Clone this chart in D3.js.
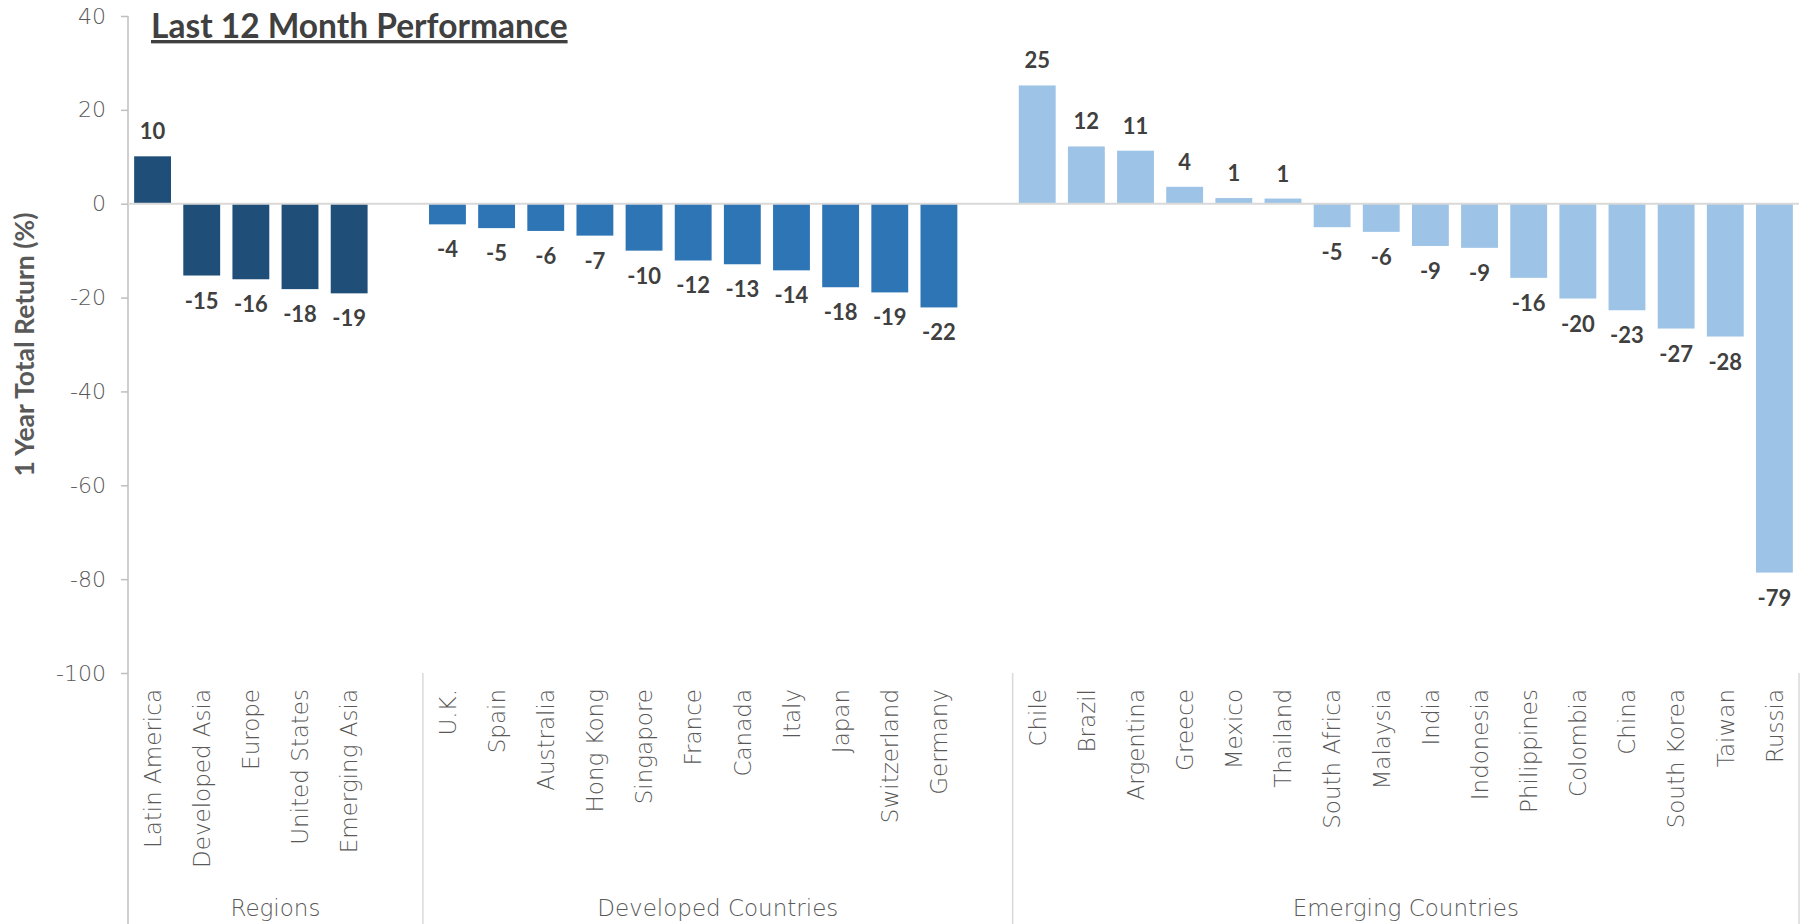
<!DOCTYPE html>
<html>
<head>
<meta charset="utf-8">
<script src="https://cdn.jsdelivr.net/npm/d3@7"></script>
<style>
  body { margin: 0; background: #fff; }
  text { font-family: "Century Gothic", "DejaVu Sans", sans-serif; }
  text.bold { font-family: "Century Gothic", "Lato", sans-serif; }
</style>
</head>
<body>
<div id="chart"></div>
<script>
// categories and values, grouped as in the source chart
const regions = ["Latin America", "Developed Asia", "Europe", "United States", "Emerging Asia"];
const regionValues = [10.1, -15.3, -16.1, -18.2, -19.1];

const developed = ["U.K.", "Spain", "Australia", "Hong Kong", "Singapore", "France", "Canada", "Italy", "Japan", "Switzerland", "Germany"];
const developedValues = [-4.4, -5.2, -5.8, -6.8, -10.0, -12.1, -12.9, -14.2, -17.8, -18.9, -22.1];

const emerging = ["Chile", "Brazil", "Argentina", "Greece", "Mexico", "Thailand", "South Africa", "Malaysia", "India", "Indonesia", "Philippines", "Colombia", "China", "South Korea", "Taiwan", "Russia"];
const emergingValues = [25.2, 12.2, 11.3, 3.6, 1.2, 1.1, -5.0, -6.0, -9.0, -9.4, -15.8, -20.2, -22.7, -26.6, -28.3, -78.6];

const groupNames = ["Regions", "Developed Countries", "Emerging Countries"];
const yTicks = [40, 20, 0, -20, -40, -60, -80, -100];

const colors = ["#1F4E79", "#2E75B6", "#9DC3E6"];

const width = 1807, height = 924;
const plotLeft = 128, plotRight = 1799, plotTop = 16, plotBottom = 673;

// build slots; Excel leaves one empty category at the end of the first two groups
const groups = [
    {name: groupNames[0], cats: regions, vals: regionValues, blank: true},
    {name: groupNames[1], cats: developed, vals: developedValues, blank: true},
    {name: groupNames[2], cats: emerging, vals: emergingValues, blank: false}
];

const slots = [];
const bars = [];
groups.forEach((g, gi) => {
    g.start = slots.length;
    g.cats.forEach((c, i) => {
        const key = gi + ":" + c;
        slots.push(key);
        bars.push({key: key, name: c, value: g.vals[i], group: gi});
    });
    if (g.blank) slots.push(gi + ":blank");
    g.end = slots.length;
});

const x = d3.scaleBand()
    .domain(slots)
    .range([plotLeft, plotRight])
    .paddingInner(0.25)
    .paddingOuter(0.125)
;

const step = x.step();

const y = d3.scaleLinear()
    .domain([-100, 40])
    .range([plotBottom, plotTop])
;

const svg = d3.select("#chart")
    .append("svg")
    .attr("width", width)
    .attr("height", height)
    .attr("viewBox", [0, 0, width, height])
;

// y axis
const yAxis = svg.append("g")
    .attr("transform", `translate(${plotLeft},0)`)
    .call(d3.axisLeft(y).tickValues(yTicks).tickSize(7).tickPadding(15).tickFormat(d => String(d)))
;
yAxis.select(".domain").remove();
yAxis.selectAll(".tick line").attr("stroke", "#BFBFBF").attr("stroke-width", 1.5);
yAxis.selectAll(".tick text")
    .attr("fill", "#595959")
    .style("font-family", null)
    .style("font-size", "22px")
    .style("font-weight", 200)
;
yAxis.attr("font-family", null);

// axis line continues down as the first group separator
svg.append("line")
    .attr("x1", plotLeft).attr("x2", plotLeft)
    .attr("y1", y(40)).attr("y2", height)
    .attr("stroke", "#BFBFBF")
    .attr("stroke-width", 1.5)
;

// group separators below the plot
svg.selectAll("line.sep")
    .data(groups)
    .enter()
    .append("line")
    .attr("class", "sep")
    .attr("x1", g => plotLeft + step * g.end)
    .attr("x2", g => plotLeft + step * g.end)
    .attr("y1", plotBottom)
    .attr("y2", height)
    .attr("stroke", "#D9D9D9")
    .attr("stroke-width", 1.5)
;

// bars
svg.selectAll("rect.bar")
    .data(bars)
    .enter()
    .append("rect")
    .attr("class", "bar")
    .attr("x", d => x(d.key))
    .attr("width", x.bandwidth())
    .attr("y", d => y(Math.max(0, d.value)))
    .attr("height", d => Math.abs(y(d.value) - y(0)))
    .attr("fill", d => colors[d.group])
;

// zero line
svg.append("line")
    .attr("x1", plotLeft).attr("x2", plotRight)
    .attr("y1", y(0)).attr("y2", y(0))
    .attr("stroke", "#D9D9D9")
    .attr("stroke-width", 2)
;

// value labels
svg.selectAll("text.val")
    .data(bars)
    .enter()
    .append("text")
    .attr("class", "val bold")
    .attr("x", d => x(d.key) + x.bandwidth() / 2)
    .attr("y", d => d.value >= 0 ? y(d.value) - 17 : y(d.value) + 33)
    .attr("text-anchor", "middle")
    .attr("fill", "#404040")
    .style("font-size", "22px")
    .style("font-weight", "bold")
    .text(d => String(Math.round(d.value)))
;

// category labels, rotated
svg.selectAll("text.cat")
    .data(bars)
    .enter()
    .append("text")
    .attr("class", "cat")
    .attr("transform", d => `translate(${x(d.key) + x.bandwidth() / 2},689) rotate(-90)`)
    .attr("dy", "0.36em")
    .attr("text-anchor", "end")
    .attr("fill", "#595959")
    .style("font-size", "23px")
    .style("font-weight", 200)
    .text(d => d.name)
;

// group labels
svg.selectAll("text.grp")
    .data(groups)
    .enter()
    .append("text")
    .attr("class", "grp")
    .attr("x", g => plotLeft + step * (g.start + g.end) / 2)
    .attr("y", 916)
    .attr("text-anchor", "middle")
    .attr("fill", "#595959")
    .style("font-size", "23px")
    .style("font-weight", 200)
    .text(g => g.name)
;

// y axis title
svg.append("text")
    .attr("class", "bold")
    .attr("transform", `translate(34,${(y(40) + y(-100)) / 2}) rotate(-90)`)
    .attr("text-anchor", "middle")
    .attr("fill", "#595959")
    .style("font-size", "26.5px")
    .style("font-weight", "bold")
    .text("1 Year Total Return (%)")
;

// title
svg.append("text")
    .attr("class", "bold")
    .attr("x", 151)
    .attr("y", 38)
    .attr("fill", "#404040")
    .style("font-size", "33.5px")
    .style("font-weight", "bold")
    .style("text-decoration", "underline")
    .text("Last 12 Month Performance")
;
</script>
</body>
</html>
